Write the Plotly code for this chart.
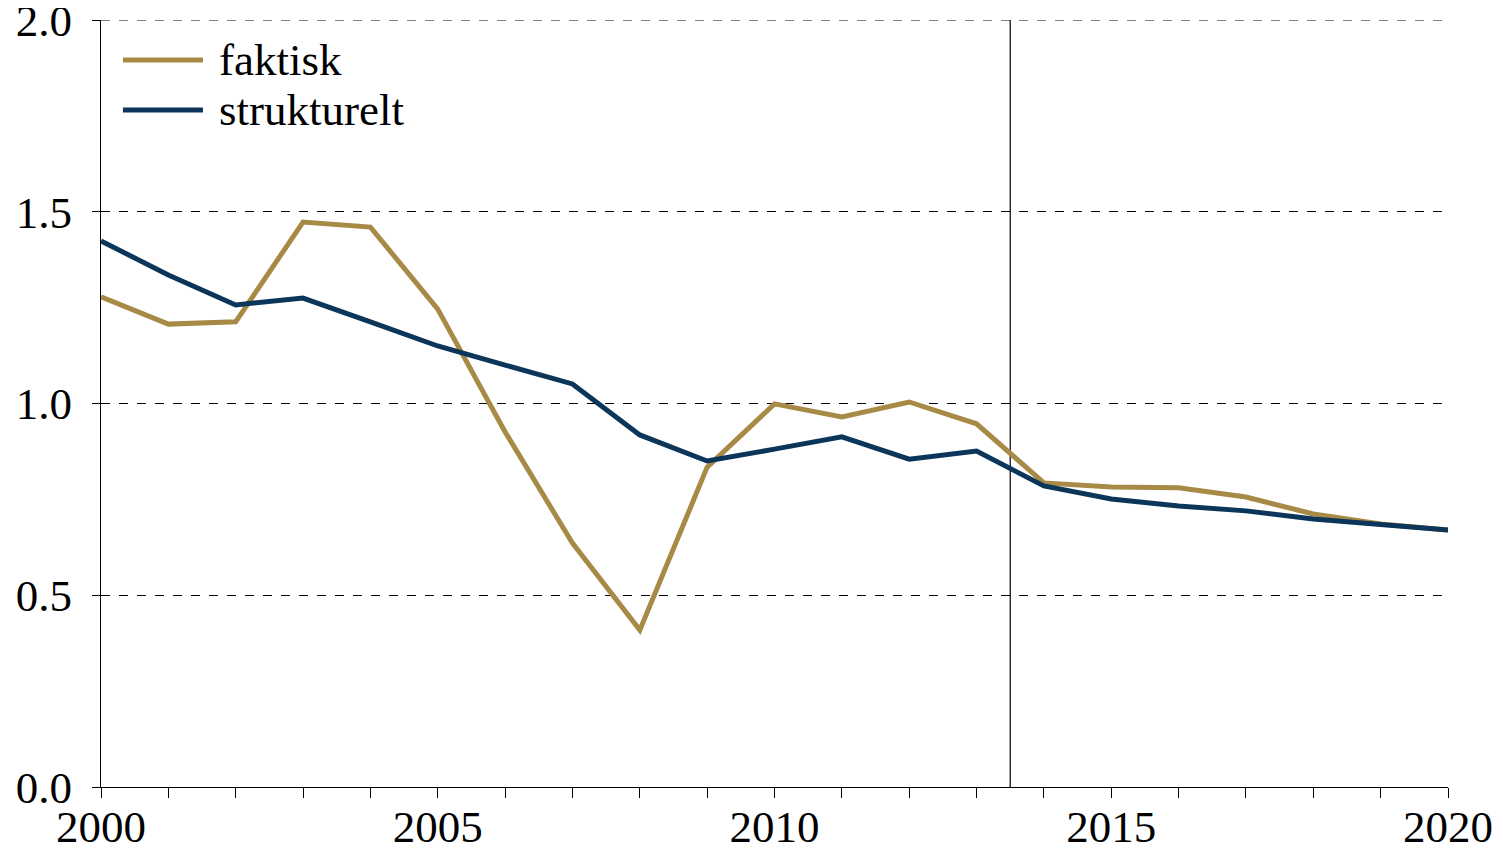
import plotly.graph_objects as go

years = list(range(2000, 2021))
faktisk = [1.278, 1.207, 1.213, 1.473, 1.460, 1.246, 0.926, 0.636, 0.409, 0.834,
           0.999, 0.965, 1.004, 0.947, 0.793, 0.782, 0.780, 0.756, 0.712, 0.686, 0.670]
strukturelt = [1.424, 1.335, 1.257, 1.275, 1.213, 1.150, 1.100, 1.051, 0.918, 0.850,
               0.881, 0.913, 0.855, 0.876, 0.785, 0.751, 0.733, 0.720, 0.699, 0.683, 0.670]
series_names = ["faktisk", "strukturelt"]
colors = ["#a88a47", "#0c355a"]
x_tickvals = years
x_ticktext = [str(y) if y % 5 == 0 else "" for y in years]
y_tickvals = [0.0, 0.5, 1.0, 1.5, 2.0]
y_ticktext = ["0.0", "0.5", "1.0", "1.5", "2.0"]
vline_x = 2013.5

font = "Liberation Serif, Times New Roman, serif"
FS = 45

fig = go.Figure()
for name, vals, c in zip(series_names, [faktisk, strukturelt], colors):
    fig.add_trace(go.Scatter(x=years, y=vals, mode="lines", name=name,
                             line=dict(color=c, width=5), showlegend=False))

fig.add_shape(type="line", x0=vline_x, x1=vline_x, y0=0, y1=2, xref="x", yref="y",
              line=dict(color="black", width=1.2), layer="below")
# top grid line at 2.0
fig.add_shape(type="line", x0=0, x1=1, y0=2, y1=2, xref="paper", yref="y",
              line=dict(color="black", width=1, dash="dash"), layer="below")

# manual legend
leg_y = [0.948, 0.8827]
for name, c, ly in zip(series_names, colors, leg_y):
    fig.add_shape(type="line", x0=0.0163, x1=0.0757, y0=ly, y1=ly,
                  xref="paper", yref="paper", line=dict(color=c, width=5))
    fig.add_annotation(x=0.0861, y=ly, xref="paper", yref="paper", text=name,
                       showarrow=False, xanchor="left", yanchor="middle",
                       font=dict(family=font, size=FS, color="black"))

# page body has an 8px margin: figure is 1495x841 placed at (8, 8)
fig.update_layout(
    width=1495, height=841,
    margin=dict(l=93, r=55, t=12, b=62, autoexpand=False),
    paper_bgcolor="white", plot_bgcolor="white",
    font=dict(family=font, size=FS, color="black"),
    showlegend=False,
    xaxis=dict(range=[2000, 2020], tickvals=x_tickvals, ticktext=x_ticktext,
               ticks="outside", ticklen=10, tickcolor="black", tickwidth=1.2,
               showline=True, linecolor="black", linewidth=1.2,
               showgrid=False, zeroline=False, automargin=False,
               ticklabeloverflow="allow", ticklabelstandoff=-10,
               tickfont=dict(size=FS, family=font)),
    yaxis=dict(range=[0, 2], tickvals=y_tickvals, ticktext=y_ticktext,
               ticks="outside", ticklen=8, tickcolor="black", tickwidth=1.2,
               showline=True, linecolor="black", linewidth=1.2,
               showgrid=True, gridcolor="black", gridwidth=1, griddash="dash",
               zeroline=False, automargin=False, ticklabelstandoff=11,
               ticklabeloverflow="allow",
               tickfont=dict(size=FS, family=font)),
)

fig.write_html("out.html")
